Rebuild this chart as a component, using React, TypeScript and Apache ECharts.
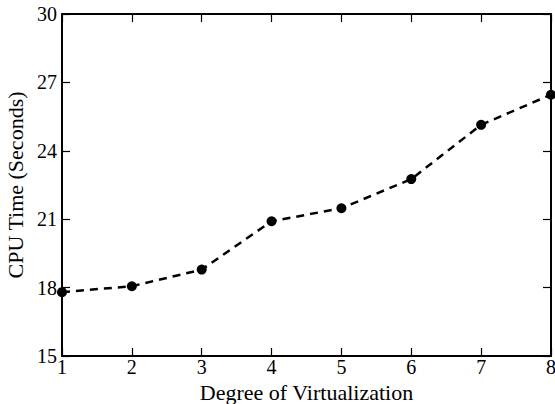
import React, { useEffect, useRef } from "react";
import * as echarts from "echarts";

const xValues = [1, 2, 3, 4, 5, 6, 7, 8];
const cpuTime = [17.8, 18.06, 18.79, 20.91, 21.48, 22.76, 25.14, 26.46];
const yTicks = [15, 18, 21, 24, 27, 30];

const FONT = "'Liberation Serif', 'Times New Roman', serif";

export default function App() {
  const ref = useRef<HTMLDivElement>(null);
  useEffect(() => {
    if (!ref.current) return;
    const chart = echarts.init(ref.current, null, { renderer: "svg" });
    const axisLine = { show: true, lineStyle: { color: "#000", width: 2 } };
    const tick = { show: true, inside: true, length: 8, lineStyle: { color: "#000", width: 1.2 } };
    chart.setOption({
      animation: false,
      backgroundColor: "#fff",
      grid: { left: 62, right: 4, top: 14, bottom: 48, containLabel: false, outerBoundsMode: "none" },
      xAxis: [
        {
          type: "value",
          min: xValues[0],
          max: xValues[xValues.length - 1],
          interval: 1,
          position: "bottom",
          name: "Degree of Virtualization",
          nameLocation: "middle",
          nameGap: 15,
          nameTextStyle: { fontFamily: FONT, fontSize: 22, color: "#000" },
          axisLine,
          axisTick: tick,
          axisLabel: { fontFamily: FONT, fontSize: 20, color: "#000", margin: 1 },
          splitLine: { show: false },
        },
        {
          type: "value",
          min: xValues[0],
          max: xValues[xValues.length - 1],
          interval: 1,
          position: "top",
          axisLine,
          axisTick: tick,
          axisLabel: { show: false },
          splitLine: { show: false },
        },
      ],
      yAxis: [
        {
          type: "value",
          min: yTicks[0],
          max: yTicks[yTicks.length - 1],
          interval: 3,
          position: "left",
          name: "CPU Time (Seconds)",
          nameLocation: "middle",
          nameGap: 36,
          nameTextStyle: { fontFamily: FONT, fontSize: 22, color: "#000" },
          axisLine,
          axisTick: tick,
          axisLabel: { fontFamily: FONT, fontSize: 20, color: "#000", margin: 5 },
          splitLine: { show: false },
        },
        {
          type: "value",
          min: yTicks[0],
          max: yTicks[yTicks.length - 1],
          interval: 3,
          position: "right",
          axisLine,
          axisTick: tick,
          axisLabel: { show: false },
          splitLine: { show: false },
        },
      ],
      series: [
        {
          type: "line",
          data: xValues.map((x, i) => [x, cpuTime[i]]),
          symbol: "circle",
          symbolSize: 10,
          itemStyle: { color: "#000" },
          lineStyle: { color: "#000", width: 2.5, type: [8, 6] },
          clip: false,
        },
      ],
    });
    return () => chart.dispose();
  }, []);
  return (
    <div
      ref={ref}
      style={{ position: "fixed", left: 0, top: 0, width: 555, height: 404 }}
    />
  );
}
